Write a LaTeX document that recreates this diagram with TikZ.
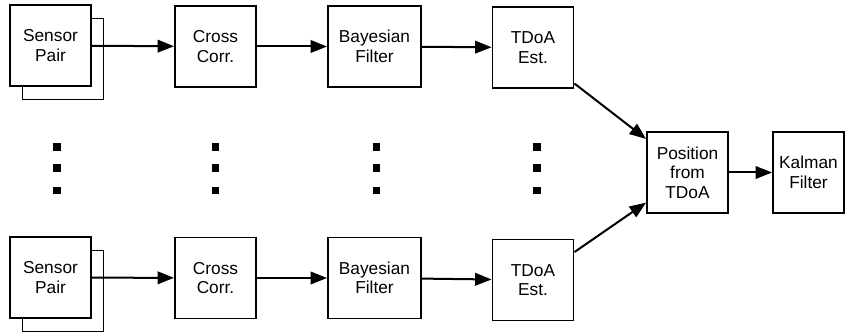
\documentclass[tikz,border=0pt]{standalone}
\usepackage{fontspec}
\setmainfont{Liberation Sans}
\usepackage{tikz}
\usetikzlibrary{arrows.meta}
\tikzset{
    every node/.style={font=\fontsize{16.4}{18.5}\selectfont},
    block/.style={draw, rectangle, fill=white, line width=1.8pt, inner sep=0pt,
        minimum width=2.7cm, minimum height=2.7cm, align=center},
    link/.style={-{Triangle[length=0.55cm, width=0.42cm]}, line width=1.9pt}
}

\begin{document}
\begin{tikzpicture}
    \useasboundingbox (0,0) rectangle (28.167,11.167);

    % top chain
    \node[block] (pair1b) at (2.1,9.2) {};
    \node[block] (pair1) at (1.683,9.65) {Sensor\\Pair};
    \node[block] (cross1) at (7.183,9.617) {Cross\\Corr.};
    \node[block, minimum width=3.1cm] (bayes1) at (12.483,9.617) {Bayesian\\Filter};
    \node[block] (tdoa1) at (17.767,9.583) {TDoA\\Est.};

    % bottom chain
    \node[block] (pair2b) at (2.1,1.467) {};
    \node[block] (pair2) at (1.683,1.917) {Sensor\\Pair};
    \node[block] (cross2) at (7.183,1.9) {Cross\\Corr.};
    \node[block, minimum width=3.1cm] (bayes2) at (12.483,1.9) {Bayesian\\Filter};
    \node[block] (tdoa2) at (17.767,1.833) {TDoA\\Est.};

    % fusion
    \node[block] (pos) at (22.917,5.417) {Position\\from\\TDoA};
    \node[block, minimum width=2.37cm] (kalman) at (26.95,5.417) {Kalman\\Filter};

    \draw[link] (pair1) -- (cross1);
    \draw[link] (cross1) -- (bayes1);
    \draw[link] (bayes1) -- (tdoa1);
    \draw[link] (pair2) -- (cross2);
    \draw[link] (cross2) -- (bayes2);
    \draw[link] (bayes2) -- (tdoa2);
    \draw[link] (tdoa1.-41.6) -- (pos.141.3);
    \draw[link] (tdoa2.34.7) -- (pos.216);
    \draw[link] (pos) -- (kalman);

    % vertical ellipses between the chains
    \foreach \x in {1.9,7.18,12.55,17.9}
        \foreach \y in {6.27,5.57,4.83}
            \fill (\x-0.12,\y-0.12) rectangle ++(0.24,0.24);
\end{tikzpicture}
\end{document}
